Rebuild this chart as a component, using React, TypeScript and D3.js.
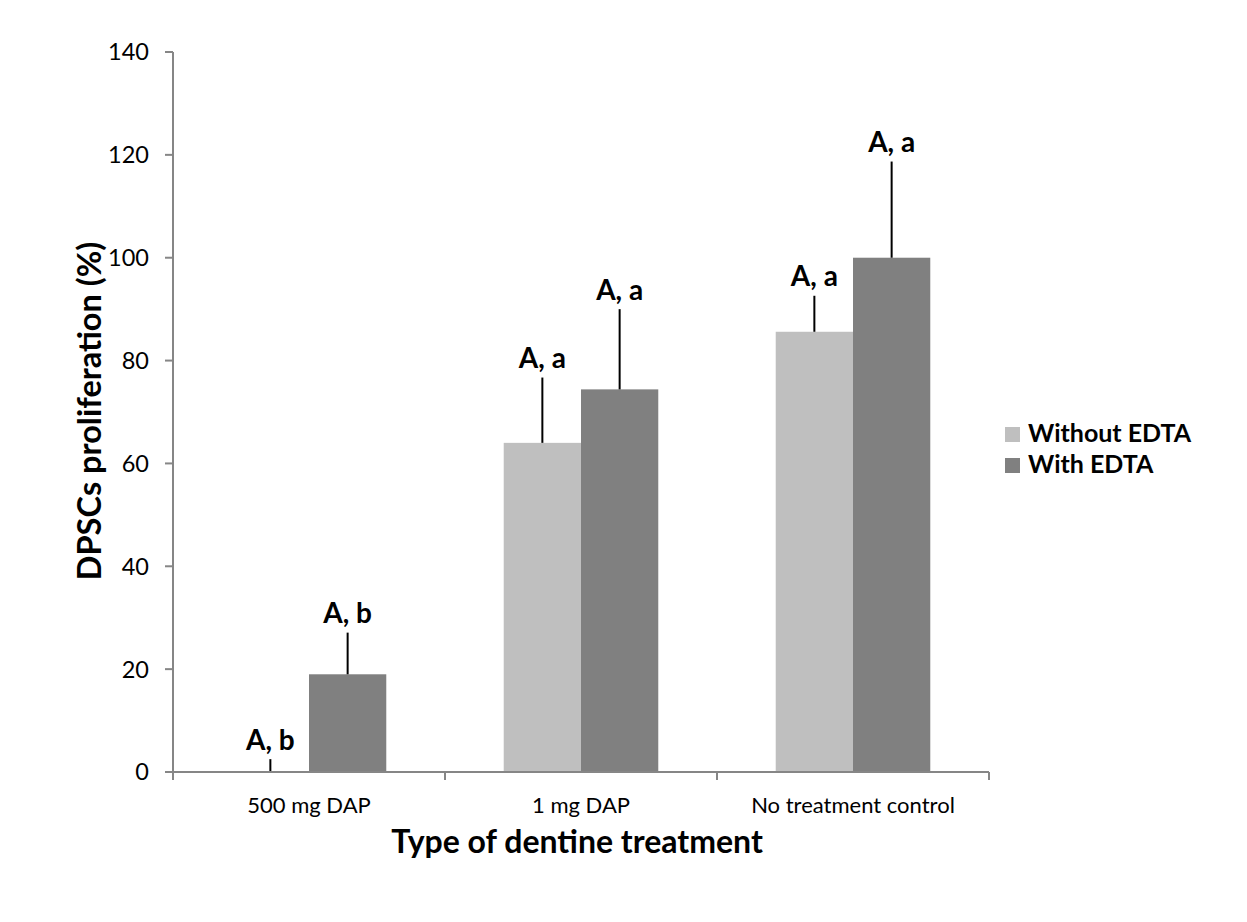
import React from 'react';
import * as d3 from 'd3';

// values
const categories = ['500 mg DAP', '1 mg DAP', 'No treatment control'];
const seriesNames = ['Without EDTA', 'With EDTA'];
const withoutEdta = [0, 64, 85.6];
const withEdta = [19, 74.4, 100];
const withoutErr = [2.5, 12.7, 7.0];
const withErr = [8.1, 15.6, 18.7];
const withoutLetters = ['A, b', 'A, a', 'A, a'];
const withLetters = ['A, b', 'A, a', 'A, a'];
const yTicks = [0, 20, 40, 60, 80, 100, 120, 140];

const W = 1247;
const H = 922;
const FONT = 'Lato, "Open Sans", sans-serif';
const AXIS = '#868686';
const colors = ['#BFBFBF', '#808080'];

export default function App() {
  const x = d3.scaleBand<string>().domain(categories).range([173, 989]).padding(0);
  const xs = d3.scaleBand<string>().domain(seriesNames).range([0, x.bandwidth()]).paddingInner(0).paddingOuter(0.76);
  const y = d3.scaleLinear().domain([0, 140]).range([772, 52]);

  const series = [
    { name: seriesNames[0], values: withoutEdta, err: withoutErr, letters: withoutLetters },
    { name: seriesNames[1], values: withEdta, err: withErr, letters: withLetters },
  ];

  const bounds = categories.map(c => x(c) as number).concat([x.range()[1]]);

  return (
    <svg width={W} height={H} style={{ position: 'absolute', left: 0, top: 0, background: '#fff' }} fontFamily={FONT}>
      <rect width={W} height={H} fill="#fff" />

      {/* bars, error bars and letters */}
      {series.map((s, si) => (
        <g key={s.name}>
          {categories.map((c, i) => {
            const bx = (x(c) as number) + (xs(s.name) as number);
            const cx = bx + xs.bandwidth() / 2;
            const top = y(s.values[i] + s.err[i]);
            return (
              <g key={c}>
                <rect x={bx} y={y(s.values[i])} width={xs.bandwidth()} height={y(0) - y(s.values[i])} fill={colors[si]} />
                <line x1={cx} x2={cx} y1={y(s.values[i])} y2={top} stroke="#000" strokeWidth={2} />
                <text x={cx} y={top - 9.5} textAnchor="middle" fontSize={28} fontWeight={700} fill="#000">{s.letters[i]}</text>
              </g>
            );
          })}
        </g>
      ))}

      {/* y axis */}
      <line x1={173} x2={173} y1={y(140)} y2={y(0)} stroke={AXIS} strokeWidth={2} />
      {yTicks.map(t => (
        <g key={t}>
          <line x1={165} x2={173} y1={y(t)} y2={y(t)} stroke={AXIS} strokeWidth={2} />
          <text x={149} y={y(t)} dy="0.36em" textAnchor="end" fontSize={23.5} fill="#000">{t}</text>
        </g>
      ))}

      {/* x axis */}
      <line x1={173} x2={989} y1={y(0)} y2={y(0)} stroke={AXIS} strokeWidth={2} />
      {bounds.map((b, i) => (
        <line key={i} x1={b} x2={b} y1={y(0)} y2={y(0) + 8} stroke={AXIS} strokeWidth={2} />
      ))}
      {categories.map(c => (
        <text key={c} x={(x(c) as number) + x.bandwidth() / 2} y={813} textAnchor="middle" fontSize={22} fill="#000">{c}</text>
      ))}

      <text x={577} y={853} textAnchor="middle" fontSize={32} fontWeight={700} fill="#000">Type of dentine treatment</text>
      <text transform="translate(101,411) rotate(-90)" textAnchor="middle" fontSize={32.5} fontWeight={700} fill="#000">DPSCs proliferation (%)</text>

      {/* legend */}
      {seriesNames.map((n, i) => (
        <g key={n} transform={`translate(1005,${427 + i * 31})`}>
          <rect width={15} height={15} fill={colors[i]} />
          <text x={23} y={15} fontSize={25} fontWeight={700} fill="#000">{n}</text>
        </g>
      ))}
    </svg>
  );
}
